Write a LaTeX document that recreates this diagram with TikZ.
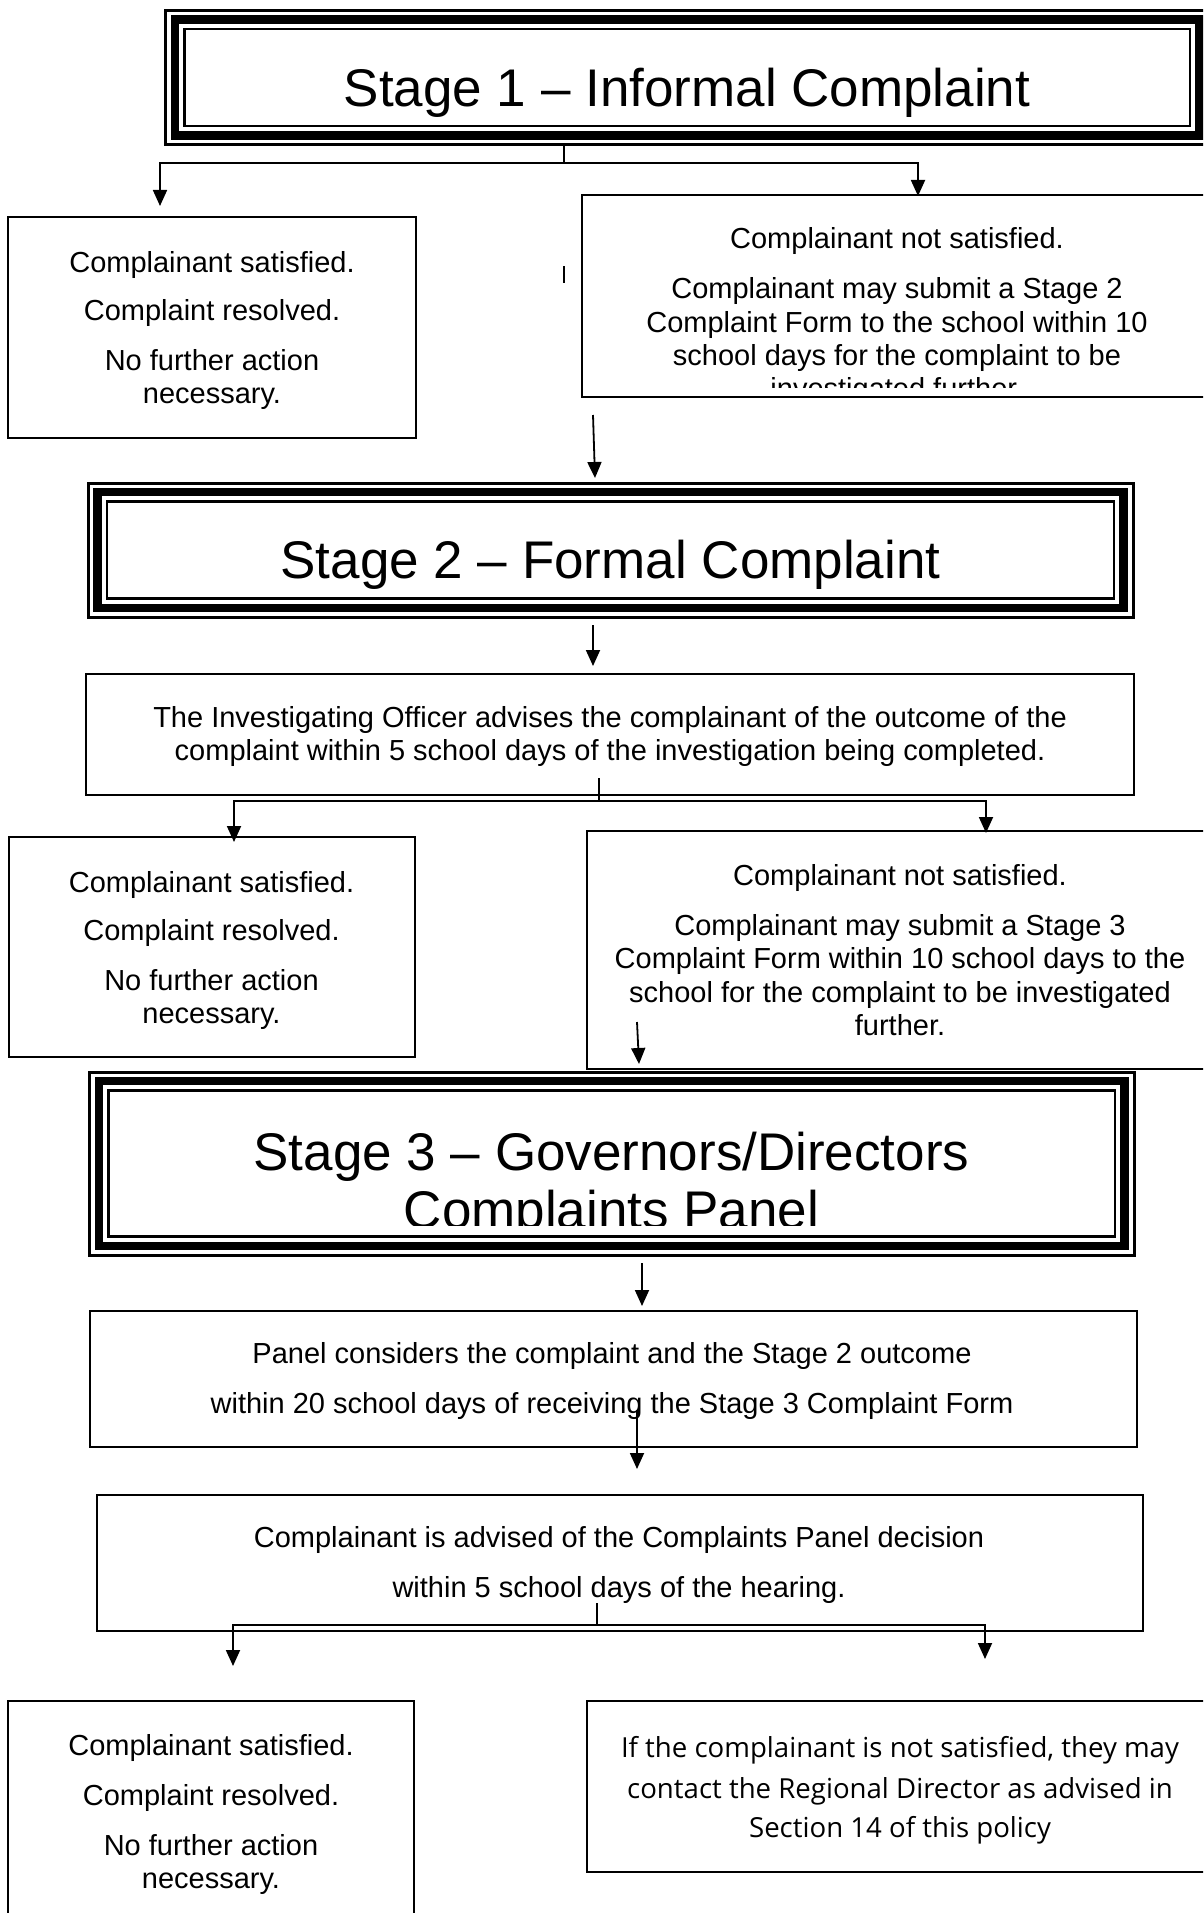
\documentclass[tikz,border=0pt]{standalone}
\usepackage{fontspec}
\setmainfont{Liberation Sans}
\newfontfamily\segoe{Open Sans}
\usetikzlibrary{arrows.meta}
\tikzset{
  box/.style={draw, line width=2pt, rectangle, inner sep=0pt, outer sep=0pt},
  stagebox/.style={draw, line width=3pt, rectangle, inner sep=0pt, outer sep=0pt},
  body/.style={anchor=base, inner sep=0pt, font=\fontsize{29}{33}\selectfont},
  bodyb/.style={anchor=base, inner sep=0pt, font=\segoe\fontsize{27.6}{33}\selectfont},
  title/.style={anchor=base, inner sep=0pt, font=\fontsize{53}{60}\selectfont},
  conn/.style={line width=1.8pt},
  arr/.style={conn, -{Triangle[length=16pt,width=14pt]}},
}
\newcommand{\stageframe}[1]{%
  \draw[line width=8.5pt] ([shift={(9.5,9)}]#1.north west) rectangle ([shift={(-9.5,-9)}]#1.south east);
  \draw[line width=2.6pt] ([shift={(19,18.5)}]#1.north west) rectangle ([shift={(-19,-18.5)}]#1.south east);}
\begin{document}
\begin{tikzpicture}[x=1pt,y=-1pt]
\useasboundingbox (0,0) rectangle (1203,1913);
\clip (0,0) rectangle (1203,1913);
\fill[white] (0,0) rectangle (1203,1913);

% ---------- Stage 1 ----------
\node[stagebox, minimum width=1043.5pt, minimum height=134pt] (s1) at (687.25,77.5) {};
\stageframe{s1}
\node[title] (s1t) at (687,107) {Stage 1 – Informal Complaint};

\node[box, minimum width=408pt, minimum height=221pt] (b1l) at (212,327.5) {};
\node[body] (b1la) at (212,272) {Complainant satisfied.};
\node[body] (b1lb) at (212,320) {Complaint resolved.};
\node[body] (b1lc) at (212,370) {No further action};
\node[body] (b1ld) at (212,403) {necessary.};

\node[box, minimum width=630pt, minimum height=202pt] (b1r) at (897,296) {};
\node[body] (b1ra) at (897,248) {Complainant not satisfied.};
\node[body] (b1rb) at (897,298) {Complainant may submit a Stage 2};
\node[body] (b1rc) at (897,332) {Complaint Form to the school within 10};
\node[body] (b1rd) at (897,365) {school days for the complaint to be};
\begin{scope}
  \clip ([shift={(2,-2)}]b1r.north west) rectangle ([yshift=10pt]b1r.south east);
  \node[body] (b1re) at (897,398) {investigated further.};
\end{scope}

\coordinate (j1) at (564,163);
\coordinate (a1) at (160,206);
\coordinate (a2) at (918,196);
\draw[conn] (j1 |- s1.south) -- (j1);
\draw[arr] (j1) -| (a1);
\draw[arr] (j1) -| (a2);
\coordinate (tk1) at (564,266);
\coordinate (tk2) at (564,283);
\draw[line width=1.3pt] (tk1) -- (tk2);

% ---------- Stage 2 ----------
\node[stagebox, minimum width=1045pt, minimum height=134pt] (s2) at (610.5,550) {};
\stageframe{s2}
\node[title] (s2t) at (610.5,578) {Stage 2 – Formal Complaint};

\coordinate (r1a) at (593,415);
\coordinate (r1b) at (595,478);
\draw[arr] (r1a) -- (r1b);

\node[box, minimum width=1048pt, minimum height=121pt] (inv) at (610,734.5) {};
\node[body] (inva) at (610,727) {The Investigating Officer advises the complainant of the outcome of the};
\node[body] (invb) at (610,760) {complaint within 5 school days of the investigation being completed.};

\coordinate (s2a) at (593,625);
\coordinate (s2b) at (593,666);
\draw[arr] (s2a) -- (s2b);

\coordinate (j2s) at (599,778);
\coordinate (j2) at (599,801);
\coordinate (a3) at (234,842);
\coordinate (a4) at (986,833);
\draw[conn] (j2s) -- (j2);
\draw[arr] (j2) -| (a3);
\draw[arr] (j2) -| (a4);

\node[box, minimum width=406pt, minimum height=220pt] (b2l) at (211.5,947) {};
\node[body] (b2la) at (211.5,892) {Complainant satisfied.};
\node[body] (b2lb) at (211.5,940) {Complaint resolved.};
\node[body] (b2lc) at (211.5,990) {No further action};
\node[body] (b2ld) at (211.5,1023) {necessary.};

\node[box, minimum width=625pt, minimum height=238pt] (b2r) at (899.5,950) {};
\node[body] (b2ra) at (900,885) {Complainant not satisfied.};
\node[body] (b2rb) at (900,935) {Complainant may submit a Stage 3};
\node[body] (b2rc) at (900,968) {Complaint Form within 10 school days to the};
\node[body] (b2rd) at (900,1002) {school for the complaint to be investigated};
\node[body] (b2re) at (900,1035) {further.};

\coordinate (r2a) at (637,1022);
\coordinate (r2b) at (639,1064);
\draw[arr] (r2a) -- (r2b);

% ---------- Stage 3 ----------
\node[stagebox, minimum width=1044.5pt, minimum height=183pt] (s3) at (611.75,1163.5) {};
\stageframe{s3}
\node[title] (s3ta) at (611.5,1170) {Stage 3 – Governors/Directors};
\begin{scope}
  \clip (s3.north west) rectangle ([yshift=29.5pt]s3.south east);
  \node[title] (s3tb) at (611.5,1228) {Complaints Panel};
\end{scope}

\coordinate (s3a) at (642,1263);
\coordinate (s3b) at (642,1306);
\draw[arr] (s3a) -- (s3b);

\node[box, minimum width=1047pt, minimum height=136pt] (pan) at (613.5,1379) {};
\node[body] (pana) at (612,1363) {Panel considers the complaint and the Stage 2 outcome};
\node[body] (panb) at (612,1413) {within 20 school days of receiving the Stage 3 Complaint Form};

\coordinate (p1) at (637,1410);
\coordinate (p2) at (637,1469);
\draw[arr] (p1) -- (p2);

\node[box, minimum width=1046.5pt, minimum height=136pt] (dec) at (619.75,1563) {};
\node[body] (deca) at (619,1547) {Complainant is advised of the Complaints Panel decision};
\node[body] (decb) at (619,1597) {within 5 school days of the hearing.};

\coordinate (j3s) at (597,1603);
\coordinate (j3) at (597,1625);
\coordinate (a5) at (233,1666);
\coordinate (a6) at (985,1659);
\draw[conn] (j3s) -- (j3);
\draw[arr] (j3) -| (a5);
\draw[arr] (j3) -| (a6);

\node[box, minimum width=406pt, minimum height=229pt] (b3l) at (211,1815.5) {};
\node[body] (b3la) at (211,1755) {Complainant satisfied.};
\node[body] (b3lb) at (211,1805) {Complaint resolved.};
\node[body] (b3lc) at (211,1855) {No further action};
\node[body] (b3ld) at (211,1888) {necessary.};

\node[box, minimum width=625pt, minimum height=171pt] (b3r) at (899.5,1786.5) {};
\node[bodyb] (b3ra) at (900,1757) {If the complainant is not satisfied, they may};
\node[bodyb] (b3rb) at (900,1798) {contact the Regional Director as advised in};
\node[bodyb] (b3rc) at (900,1837) {Section 14 of this policy};
\end{tikzpicture}
\end{document}
